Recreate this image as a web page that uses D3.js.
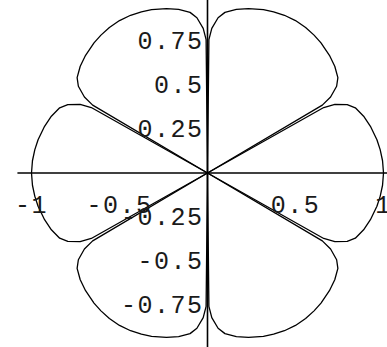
<!DOCTYPE html>
<html>
<head>
<meta charset="utf-8">
<script src="https://cdn.jsdelivr.net/npm/d3@7"></script>
<style>
  html, body { margin: 0; padding: 0; background: #fff; }
  svg { display: block; }
  .tick-label { font-family: "Liberation Mono", "Courier New", monospace; font-size: 25px; fill: #1a1a1a; letter-spacing: 1.5px; }
</style>
</head>
<body>
<div id="chart"></div>
<script>
// Six-petal polar curve: each petal is centred on one of these directions (degrees)
const petalCenters = [0, 60, 120, 180, 240, 300];
// Half-petal profile: angular offset from the petal centre (degrees) and radius
const halfPetalOffsets = [0, 4, 7.7, 11.1, 16, 20, 23.8, 26.1, 28.3, 29.4, 30];
const halfPetalRadii   = [1.0, 0.997, 0.99, 0.981, 0.963, 0.944, 0.918, 0.884, 0.822, 0.758, 0];

// Axis tick values and their labels
const xTickValues = [-1, -0.5, 0.5, 1];
const xTickLabels = ["-1", "-0.5", "0.5", "1"];
const yTickValues = [0.75, 0.5, 0.25, -0.25, -0.5, -0.75];
const yTickLabels = ["0.75", "0.5", "0.25", "-0.25", "-0.5", "-0.75"];

const W = 387, H = 347;
const cx = 207.5, cy = 173, unit = 176;

const x = d3.scaleLinear().domain([-1, 1]).range([cx - unit, cx + unit]);
const y = d3.scaleLinear().domain([-1, 1]).range([cy + unit, cy - unit]);

const svg = d3.select("#chart").append("svg")
  .attr("width", W).attr("height", H);

// Build one closed loop per petal: origin -> one side -> around -> other side -> origin
function petalPoints(center) {
  const pts = [[0, 0]];
  const n = halfPetalOffsets.length;
  // lower side, from the edge inward to the centre
  for (let i = n - 2; i >= 0; i--) {
    pts.push([center - halfPetalOffsets[i], halfPetalRadii[i]]);
  }
  // upper side, from the centre out to the edge
  for (let i = 1; i < n - 1; i++) {
    pts.push([center + halfPetalOffsets[i], halfPetalRadii[i]]);
  }
  pts.push([0, 0]);
  return pts.map(([deg, r]) => {
    const a = deg * Math.PI / 180;
    return [r * Math.cos(a), r * Math.sin(a)];
  });
}

const line = d3.line()
  .x(d => x(d[0]))
  .y(d => y(d[1]))
  .curve(d3.curveLinear);

// Axes through the origin
svg.append("line")
  .attr("x1", x(-1.08)).attr("x2", x(1.2))
  .attr("y1", y(0)).attr("y2", y(0))
  .attr("stroke", "#000").attr("stroke-width", 1.6);
svg.append("line")
  .attr("x1", x(0)).attr("x2", x(0))
  .attr("y1", y(1.0)).attr("y2", y(-1.05))
  .attr("stroke", "#000").attr("stroke-width", 1.6);

// Petals
svg.append("g").selectAll("path")
  .data(petalCenters)
  .join("path")
  .attr("d", c => line(petalPoints(c)))
  .attr("fill", "none")
  .attr("stroke", "#000")
  .attr("stroke-width", 1.3)
  .attr("stroke-linejoin", "round");

// Tick labels
svg.append("g").selectAll("text")
  .data(xTickValues)
  .join("text")
  .attr("class", "tick-label")
  .attr("x", d => x(d))
  .attr("y", y(0) + 33)
  .attr("text-anchor", "middle")
  .attr("dominant-baseline", "central")
  .text((d, i) => xTickLabels[i]);

svg.append("g").selectAll("text")
  .data(yTickValues)
  .join("text")
  .attr("class", "tick-label")
  .attr("x", x(0) - 4)
  .attr("y", d => y(d) + 1)
  .attr("text-anchor", "end")
  .attr("dominant-baseline", "central")
  .text((d, i) => yTickLabels[i]);
</script>
</body>
</html>
